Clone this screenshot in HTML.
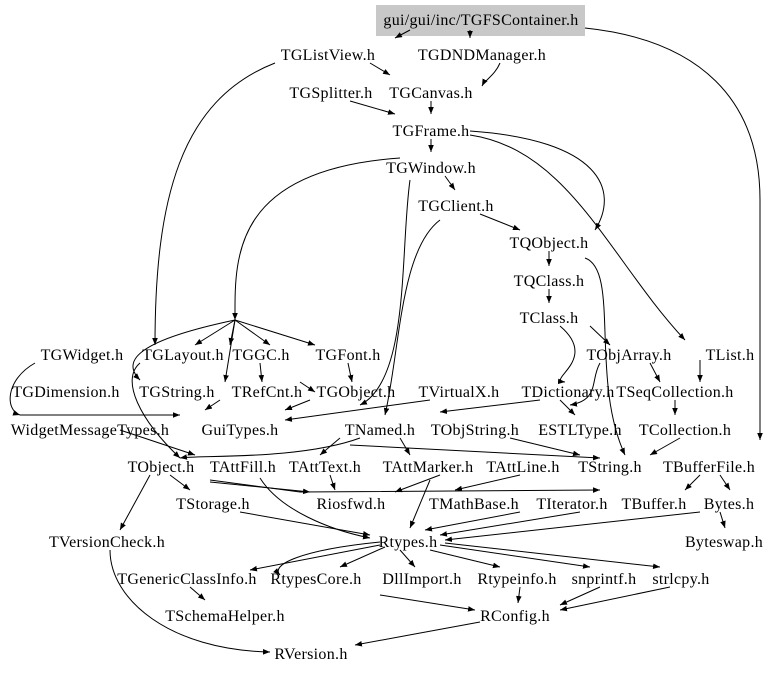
<!DOCTYPE html>
<html><head><meta charset="utf-8"><style>
body{margin:0;background:#fff;}
svg text{font-family:"Liberation Serif",serif;font-size:16px;letter-spacing:0.3px;fill:#000;text-anchor:middle;}
</style></head><body>
<svg width="768" height="673" viewBox="0 0 768 673" xmlns="http://www.w3.org/2000/svg">
<defs><marker id="a" viewBox="0 0 10 10" refX="10" refY="5" markerWidth="7" markerHeight="7" orient="auto"><path d="M0,1 L10,5 L0,9 z" fill="#000"/></marker></defs>
<rect x="376" y="5" width="209" height="31" fill="#c8c8c8"/>
<g fill="none" stroke="#000" stroke-width="1" marker-end="url(#a)">
<path d="M410,30 L395,38"/>
<path d="M470,30 L470,38"/>
<path d="M585,28 C700,40 760,100 760,200 L760,440"/>
<path d="M370,63 L390,75"/>
<path d="M275,63 C180,100 155,200 155,345"/>
<path d="M500,63 C495,75 485,80 482,86"/>
<path d="M350,101 L395,114"/>
<path d="M431,101 L431,114"/>
<path d="M431,139 L431,152"/>
<path d="M470,131 C600,140 620,190 595,230"/>
<path d="M470,135 C570,150 610,260 685,340"/>
<path d="M400,158 C230,170 235,260 235,320"/>
<path d="M445,176 L455,190"/>
<path d="M480,214 L520,230"/>
<path d="M549,251 L549,266"/>
<path d="M549,289 L549,303"/>
<path d="M440,220 C400,250 400,350 385,415"/>
<path d="M410,180 C400,250 410,380 360,405"/>
<path d="M590,326 L610,345"/>
<path d="M560,326 C600,360 545,380 565,382"/>
<path d="M585,258 C620,270 590,380 625,455"/>
<path d="M235,320 L230,345"/>
<path d="M235,320 L270,345"/>
<path d="M235,320 L315,345"/>
<path d="M235,320 L195,345"/>
<path d="M235,320 C140,340 120,360 140,380"/>
<path d="M235,320 L225,382"/>
<path d="M260,363 L262,382"/>
<path d="M348,363 L352,382"/>
<path d="M300,382 L315,392"/>
<path d="M35,363 C5,380 5,410 20,415"/>
<path d="M140,363 C120,380 140,420 180,458"/>
<path d="M20,415 L180,415"/>
<path d="M310,400 L285,410"/>
<path d="M220,400 L205,410"/>
<path d="M430,400 L285,420"/>
<path d="M540,400 L440,412"/>
<path d="M560,400 L575,415"/>
<path d="M675,400 L675,415"/>
<path d="M700,360 L700,382"/>
<path d="M650,363 L660,382"/>
<path d="M600,363 C590,380 600,400 570,405"/>
<path d="M680,438 L650,455"/>
<path d="M340,438 L320,455"/>
<path d="M360,438 C300,460 200,455 180,458"/>
<path d="M400,438 L410,455"/>
<path d="M510,438 L580,455"/>
<path d="M120,430 L195,455"/>
<path d="M350,445 L600,458"/>
<path d="M170,475 L190,490"/>
<path d="M150,475 L120,530"/>
<path d="M210,482 L310,492"/>
<path d="M210,480 L300,492 L600,490"/>
<path d="M440,475 L395,492"/>
<path d="M520,475 L455,490"/>
<path d="M330,475 L335,490"/>
<path d="M260,478 C280,510 330,530 370,538"/>
<path d="M240,512 L370,535"/>
<path d="M430,480 L410,528"/>
<path d="M520,512 L425,530"/>
<path d="M580,512 L440,535"/>
<path d="M700,512 L445,540"/>
<path d="M700,475 L685,490"/>
<path d="M720,475 L730,490"/>
<path d="M720,512 L725,528"/>
<path d="M110,550 C110,600 170,650 270,652"/>
<path d="M380,545 L250,570"/>
<path d="M385,547 L340,567"/>
<path d="M400,550 L415,567"/>
<path d="M430,550 L500,567"/>
<path d="M440,545 L590,567"/>
<path d="M445,543 L660,567"/>
<path d="M380,542 C300,550 270,565 280,575"/>
<path d="M190,587 L205,600"/>
<path d="M380,595 L475,610"/>
<path d="M520,587 L518,603"/>
<path d="M600,587 L560,605"/>
<path d="M670,587 L560,610"/>
<path d="M480,622 L355,645"/>
</g>
<g>
<text x="481" y="25">gui/gui/inc/TGFSContainer.h</text>
<text x="328" y="60">TGListView.h</text>
<text x="482" y="60">TGDNDManager.h</text>
<text x="331" y="98">TGSplitter.h</text>
<text x="431" y="98">TGCanvas.h</text>
<text x="431" y="136">TGFrame.h</text>
<text x="431" y="173">TGWindow.h</text>
<text x="456" y="211">TGClient.h</text>
<text x="549" y="248">TQObject.h</text>
<text x="549" y="286">TQClass.h</text>
<text x="549" y="323">TClass.h</text>
<text x="629" y="360">TObjArray.h</text>
<text x="730" y="360">TList.h</text>
<text x="82" y="360">TGWidget.h</text>
<text x="183" y="360">TGLayout.h</text>
<text x="261" y="360">TGGC.h</text>
<text x="348" y="360">TGFont.h</text>
<text x="66" y="397">TGDimension.h</text>
<text x="177" y="397">TGString.h</text>
<text x="267" y="397">TRefCnt.h</text>
<text x="356" y="397">TGObject.h</text>
<text x="459" y="397">TVirtualX.h</text>
<text x="568" y="397">TDictionary.h</text>
<text x="675" y="397">TSeqCollection.h</text>
<text x="90" y="435">WidgetMessageTypes.h</text>
<text x="240" y="435">GuiTypes.h</text>
<text x="380" y="435">TNamed.h</text>
<text x="475" y="435">TObjString.h</text>
<text x="580" y="435">ESTLType.h</text>
<text x="685" y="435">TCollection.h</text>
<text x="161" y="472">TObject.h</text>
<text x="243" y="472">TAttFill.h</text>
<text x="325" y="472">TAttText.h</text>
<text x="428" y="472">TAttMarker.h</text>
<text x="523" y="472">TAttLine.h</text>
<text x="610" y="472">TString.h</text>
<text x="709" y="472">TBufferFile.h</text>
<text x="213" y="509">TStorage.h</text>
<text x="351" y="509">Riosfwd.h</text>
<text x="474" y="509">TMathBase.h</text>
<text x="572" y="509">TIterator.h</text>
<text x="654" y="509">TBuffer.h</text>
<text x="729" y="509">Bytes.h</text>
<text x="107" y="547">TVersionCheck.h</text>
<text x="408" y="547">Rtypes.h</text>
<text x="724" y="547">Byteswap.h</text>
<text x="187" y="584">TGenericClassInfo.h</text>
<text x="316" y="584">RtypesCore.h</text>
<text x="422" y="584">DllImport.h</text>
<text x="517" y="584">Rtypeinfo.h</text>
<text x="604" y="584">snprintf.h</text>
<text x="681" y="584">strlcpy.h</text>
<text x="225" y="621">TSchemaHelper.h</text>
<text x="515" y="621">RConfig.h</text>
<text x="311" y="659">RVersion.h</text>
</g>
</svg>
</body></html>
